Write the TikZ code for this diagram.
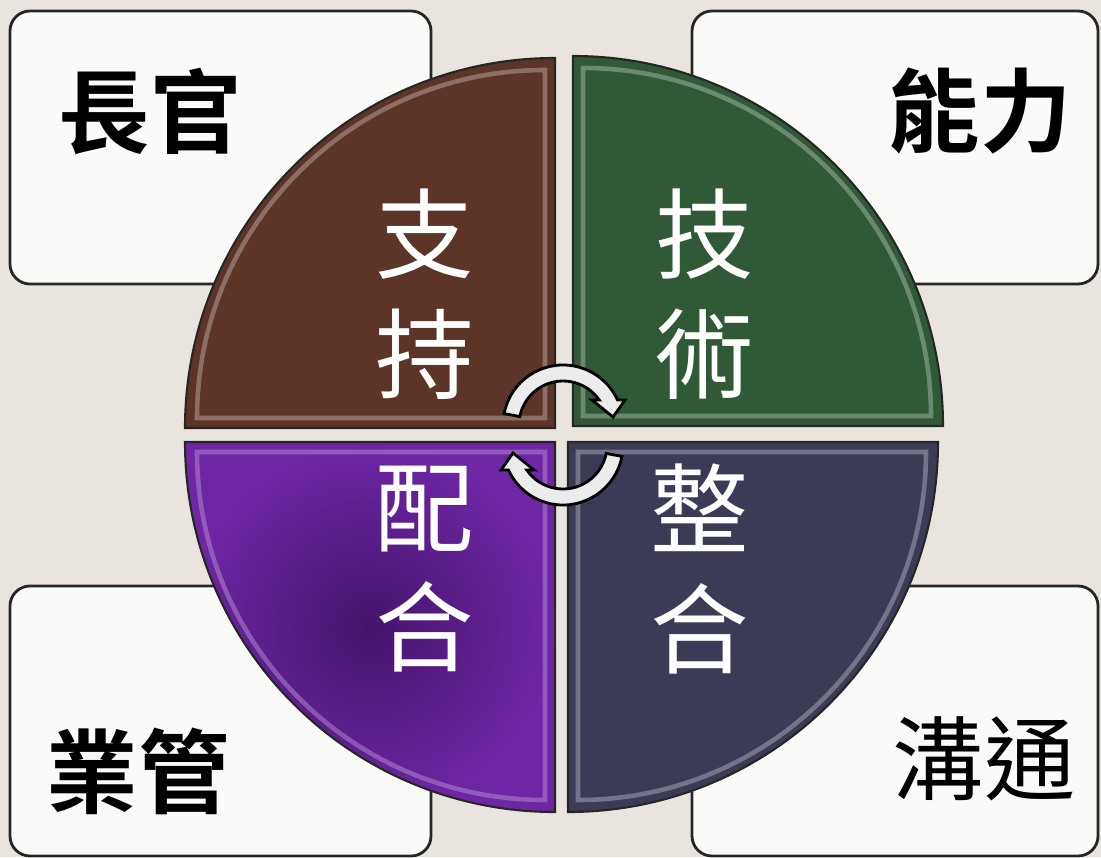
\documentclass[tikz,border=0pt]{standalone}
\usepackage{fontspec}
\newfontfamily\cjk{Noto Sans CJK TC}[BoldFont={* Bold}]
\usetikzlibrary{positioning}
\usetikzlibrary{calc}

\definecolor{bgcol}{RGB}{233,229,222}
\definecolor{boxfill}{RGB}{250,250,248}
\definecolor{brownq}{RGB}{92,52,40}
\definecolor{greenq}{RGB}{47,89,55}
\definecolor{purpleq}{RGB}{110,38,164}
\definecolor{purpledark}{RGB}{70,20,108}
\definecolor{slateq}{RGB}{59,59,86}
\definecolor{arrowfill}{RGB}{236,236,236}

\begin{document}
\begin{tikzpicture}[
        box/.style={draw=black!85, line width=0.8pt, fill=boxfill, rounded corners=0.2cm, inner sep=0pt},
        boxlabel/.style={font=\cjk\bfseries\fontsize{26}{30}\selectfont, inner sep=0pt},
        quarter/.style={draw=black!85, line width=0.6pt},
        rim/.style={line width=1.3pt, opacity=0.45},
        qlabel/.style={font=\cjk\fontsize{28}{30}\selectfont, text=white, align=center, inner sep=0pt},
        cyc/.style={fill=arrowfill, draw=black, line width=0.8pt}
    ]
        \fill[bgcol] (0,0) rectangle (11.01,8.57);
        \useasboundingbox (0,0) rectangle (11.01,8.57);

        % corner boxes
        \node[box, minimum width=4.21cm, minimum height=2.73cm] (boss) at (2.205,7.095) {};
        \node[box, minimum width=4.06cm, minimum height=2.73cm] (skill) at (8.95,7.095) {};
        \node[box, minimum width=4.21cm, minimum height=2.70cm] (biz) at (2.205,1.36) {};
        \node[box, minimum width=4.06cm, minimum height=2.70cm] (talk) at (8.95,1.36) {};

        \node[boxlabel] (bosstext) at (1.50,7.45) {長官};
        \node[boxlabel] (skilltext) at (9.80,7.46) {能力};
        \node[boxlabel] (biztext) at (1.38,0.86) {業管};
        \node[boxlabel, font=\cjk\fontsize{26}{30}\selectfont] (talktext) at (9.84,0.98) {溝通};

        % quarter pieces
        \filldraw[quarter, fill=brownq] (5.55,4.29) -- ++(-3.70,0) arc (180:90:3.70) -- cycle;
        \draw[rim, brownq!35!white] (5.45,4.39) -- ++(-3.48,0) arc (180:90:3.48) -- cycle;

        \filldraw[quarter, fill=greenq] (5.73,4.31) -- ++(0,3.70) arc (90:0:3.70) -- cycle;
        \draw[rim, greenq!35!white] (5.83,4.41) -- ++(0,3.48) arc (90:0:3.48) -- cycle;

        \shade[inner color=purpledark, outer color=purpleq] (5.55,4.15) -- ++(0,-3.70) arc (270:180:3.70) -- cycle;
        \draw[quarter] (5.55,4.15) -- ++(0,-3.70) arc (270:180:3.70) -- cycle;
        \draw[rim, purpleq!45!white] (5.45,4.05) -- ++(0,-3.48) arc (270:180:3.48) -- cycle;

        \filldraw[quarter, fill=slateq] (5.68,4.15) -- ++(3.70,0) arc (0:-90:3.70) -- cycle;
        \draw[rim, slateq!35!white] (5.78,4.05) -- ++(3.48,0) arc (0:-90:3.48) -- cycle;

        \node[qlabel] (support) at (4.25,5.63) {支\\[0.15cm]持};
        \node[qlabel] (tech) at (7.05,5.63) {技\\[0.15cm]術};
        \node[qlabel] (coop) at (4.25,2.88) {配\\[0.15cm]合};
        \node[qlabel] (merge) at (7.00,2.88) {整\\[0.15cm]合};

        % cycle arrows
        \begin{scope}[shift={(5.63,4.32)}]
            \filldraw[cyc] (169:0.60) arc (169:24.6:0.60) -- (0.62,0.25) -- (0.50,0.08) -- (0.29,0.25) -- (34.6:0.44) arc (34.6:169:0.44) -- cycle;
        \end{scope}
        \begin{scope}[shift={(5.63,4.12)}, rotate=180]
            \filldraw[cyc] (169:0.60) arc (169:24.6:0.60) -- (0.62,0.25) -- (0.50,0.08) -- (0.29,0.25) -- (34.6:0.44) arc (34.6:169:0.44) -- cycle;
        \end{scope}
    \end{tikzpicture}
\end{document}
